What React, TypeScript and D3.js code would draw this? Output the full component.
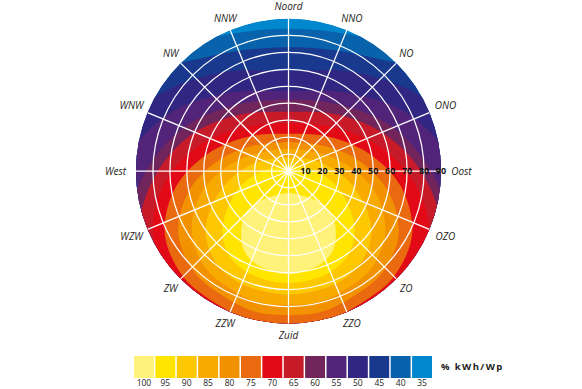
import React from "react";
import * as d3 from "d3";

const W = 582;
const H = 389;
const cx = 288.5;
const cy = 171;
const R = 152.5;

// yield bins (% kWh/Wp) and their colours, highest first
const levels = [100, 95, 90, 85, 80, 75, 70, 65, 60, 55, 50, 45, 40, 35];
const levelColors = [
  "#fff27a", "#ffe500", "#fec800", "#f8aa00", "#f39200", "#ea6a10", "#e30a17",
  "#c81b2a", "#72255a", "#512479", "#312782", "#19398e", "#0963ac", "#0087cd",
];

const directions = [
  "Noord", "NNO", "NO", "ONO", "Oost", "OZO", "ZO", "ZZO",
  "Zuid", "ZZW", "ZW", "WZW", "West", "WNW", "NW", "NNW",
];
const tiltTicks = [10, 20, 30, 40, 50, 60, 70, 80, 90];

// optimum lies due south at this tilt
const optimumTilt = 37;

// outer edge of each bin, as distance (in tilt degrees) from the optimum,
// read at 16 directions clockwise from north
const edge100 = [24, 24, 26, 28, 28, 28, 26, 24, 24, 24, 26, 28, 28, 28, 26, 24];
const edge95 = [40, 40, 40, 39, 39, 37, 33, 30, 29, 30, 33, 37, 39, 39, 40, 40];
const edge90 = [45, 46, 47, 48, 49, 46, 41, 37, 36, 37, 41, 46, 49, 48, 47, 46];
const edge85 = [50, 51, 54, 57, 57, 53, 47, 44, 42, 44, 47, 53, 57, 57, 54, 51];
const edge80 = [54, 56, 60, 64, 65, 60, 53, 50, 48, 50, 53, 60, 65, 64, 60, 56];
const edge75 = [59, 62, 67, 72, 73, 67, 59, 56, 56, 56, 59, 67, 73, 72, 67, 62];
const edge70 = [65, 68, 74, 80, 83, 75, 67, 63, 62, 63, 66, 72, 80, 79, 74, 68];
const edge65 = [72, 76, 82, 87, 90, 82, 75, 70, 69, 70, 74, 80, 88, 86, 82, 76];
const edge60 = [79, 82, 88, 92, 96, 90, 83, 78, 77, 78, 83, 89, 95, 92, 88, 82];
const edge55 = [84, 90, 100, 106, 107, 101, 95, 89, 86, 89, 95, 101, 107, 106, 100, 90];
const edge50 = [96, 103, 113, 118, 118, 112, 107, 101, 98, 101, 107, 112, 118, 118, 113, 103];
const edge45 = [110, 114, 127, 133, 133, 127, 121, 115, 112, 115, 121, 127, 133, 133, 127, 114];
const edge40 = [121, 125, 142, 148, 148, 142, 136, 130, 127, 130, 136, 142, 148, 148, 142, 125];

const edges = [edge100, edge95, edge90, edge85, edge80, edge75, edge70, edge65, edge60, edge55, edge50, edge45, edge40];

const rScale = d3.scaleLinear().domain([0, 90]).range([0, R]);

const edgeLine = d3
  .lineRadial<number>()
  .angle((_, i) => (i * 2 * Math.PI) / 16)
  .radius((d) => rScale(d))
  .curve(d3.curveCatmullRomClosed.alpha(0.5));

const legendX = d3.scaleBand<number>().domain(levels).range([134, 432]).paddingInner(0.07);

const font = "'Open Sans', 'DejaVu Sans', sans-serif";

export default function App() {
  const oy = cy + rScale(optimumTilt);
  // paint lowest bin first, the full disc, then each higher bin on top
  const order = d3.range(edges.length).reverse();

  return (
    <svg width={W} height={H} style={{ position: "absolute", left: 0, top: 0, background: "#fff" }}>
      <defs>
        <clipPath id="disc">
          <circle cx={cx} cy={cy} r={R} />
        </clipPath>
      </defs>
      <g clipPath="url(#disc)">
        <circle cx={cx} cy={cy} r={R} fill={levelColors[levels.length - 1]} />
        {order.map((i) => (
          <path key={levels[i]} d={edgeLine(edges[i]) || ""} transform={`translate(${cx},${oy})`} fill={levelColors[i]} />
        ))}
      </g>

      {/* grid */}
      <g stroke="#fff" strokeWidth={1.25} fill="none">
        {tiltTicks.slice(0, -1).map((t) => (
          <circle key={t} cx={cx} cy={cy} r={rScale(t)} />
        ))}
        {directions.map((d, i) => {
          const a = (i * 2 * Math.PI) / 16;
          return (
            <line key={d} x1={cx} y1={cy} x2={cx + R * Math.sin(a)} y2={cy - R * Math.cos(a)} />
          );
        })}
      </g>

      {/* tilt labels */}
      {tiltTicks.map((t) => (
        <text
          key={t}
          x={cx + rScale(t)}
          y={cy + 3.3}
          textAnchor="middle"
          fontFamily={font}
          fontWeight="bold"
          fontSize={9}
          fill="#111"
        >
          {t}
        </text>
      ))}

      {/* direction labels */}
      {directions.map((d, i) => {
        const a = (i * 2 * Math.PI) / 16;
        const w = d.length * 6;
        const s = Math.sin(a);
        const r = 164.5 + 0.35 * w * s * s;
        return (
          <text
            key={d}
            x={cx + r * s}
            y={cy - r * Math.cos(a) + 3.5}
            textAnchor="middle"
            fontFamily={font}
            fontStyle="italic"
            fontSize={10}
            fill="#1d1d1b"
          >
            {d}
          </text>
        );
      })}

      {/* legend */}
      {levels.map((l, i) => (
        <g key={l}>
          <rect x={legendX(l)} y={356} width={legendX.bandwidth()} height={22} fill={levelColors[i]} />
          <text
            x={(legendX(l) || 0) + legendX.bandwidth() / 2}
            y={386}
            textAnchor="middle"
            fontFamily={font}
            fontSize={8.5}
            fill="#1d1d1b"
          >
            {l}
          </text>
        </g>
      ))}
      <text x={441} y={370} fontFamily={font} fontWeight="bold" fontSize={9.5} fill="#1d1d1b" letterSpacing={1.4}>
        % kWh/Wp
      </text>
    </svg>
  );
}
